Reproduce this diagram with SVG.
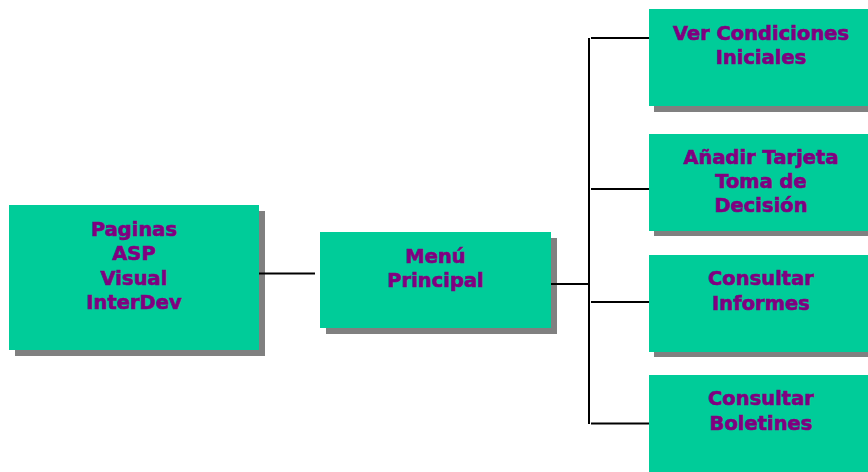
<svg xmlns="http://www.w3.org/2000/svg" width="868" height="472" viewBox="0 0 868 472">
<style>
.box{fill:#00CC99}
.sh{fill:#808080}
.t{font-family:"DejaVu Sans",Verdana,sans-serif;font-weight:bold;font-size:19.5px;fill:#800080;stroke:#800080;stroke-width:0.6;text-anchor:middle}
.ln{stroke:#000;stroke-width:2;fill:none}
</style>
<rect width="868" height="472" fill="#fff"/>
<g id="paginas">
<rect class="sh" x="15" y="211" width="250" height="145"/>
<rect class="box" x="9" y="205" width="250" height="145"/>
<text class="t" x="134" y="236">Paginas</text>
<text class="t" x="134" y="260">ASP</text>
<text class="t" x="134" y="285">Visual</text>
<text class="t" x="134" y="309">InterDev</text>
</g>
<g id="menu">
<rect class="sh" x="326" y="238" width="231" height="96"/>
<rect class="box" x="320" y="232" width="231" height="96"/>
<text class="t" x="435.5" y="263">Menú</text>
<text class="t" x="435.5" y="287">Principal</text>
</g>
<g id="ver">
<rect class="sh" x="654" y="15" width="224" height="97"/>
<rect class="box" x="649" y="9" width="224" height="97"/>
<text class="t" x="761" y="39.5">Ver Condiciones</text>
<text class="t" x="761" y="63.5">Iniciales</text>
</g>
<g id="anadir">
<rect class="sh" x="654" y="140" width="224" height="96"/>
<rect class="box" x="649" y="134" width="224" height="97"/>
<text class="t" x="761" y="163.5">Añadir Tarjeta</text>
<text class="t" x="761" y="188">Toma de</text>
<text class="t" x="761" y="212">Decisión</text>
</g>
<g id="informes">
<rect class="sh" x="654" y="261" width="224" height="96"/>
<rect class="box" x="649" y="255" width="224" height="97"/>
<text class="t" x="761" y="285">Consultar</text>
<text class="t" x="761" y="310">Informes</text>
</g>
<g id="boletines">
<rect class="box" x="649" y="375" width="224" height="97"/>
<text class="t" x="761" y="405">Consultar</text>
<text class="t" x="761" y="430">Boletines</text>
</g>
<g id="connectors">
<line class="ln" x1="259" y1="273.5" x2="315" y2="273.5"/>
<line class="ln" x1="551" y1="284" x2="589" y2="284"/>
<line class="ln" x1="589" y1="38" x2="589" y2="424"/>
<line class="ln" x1="591" y1="38" x2="649" y2="38"/>
<line class="ln" x1="591" y1="189" x2="649" y2="189"/>
<line class="ln" x1="591" y1="302" x2="649" y2="302"/>
<line class="ln" x1="591" y1="423.5" x2="649" y2="423.5"/>
</g>
</svg>
